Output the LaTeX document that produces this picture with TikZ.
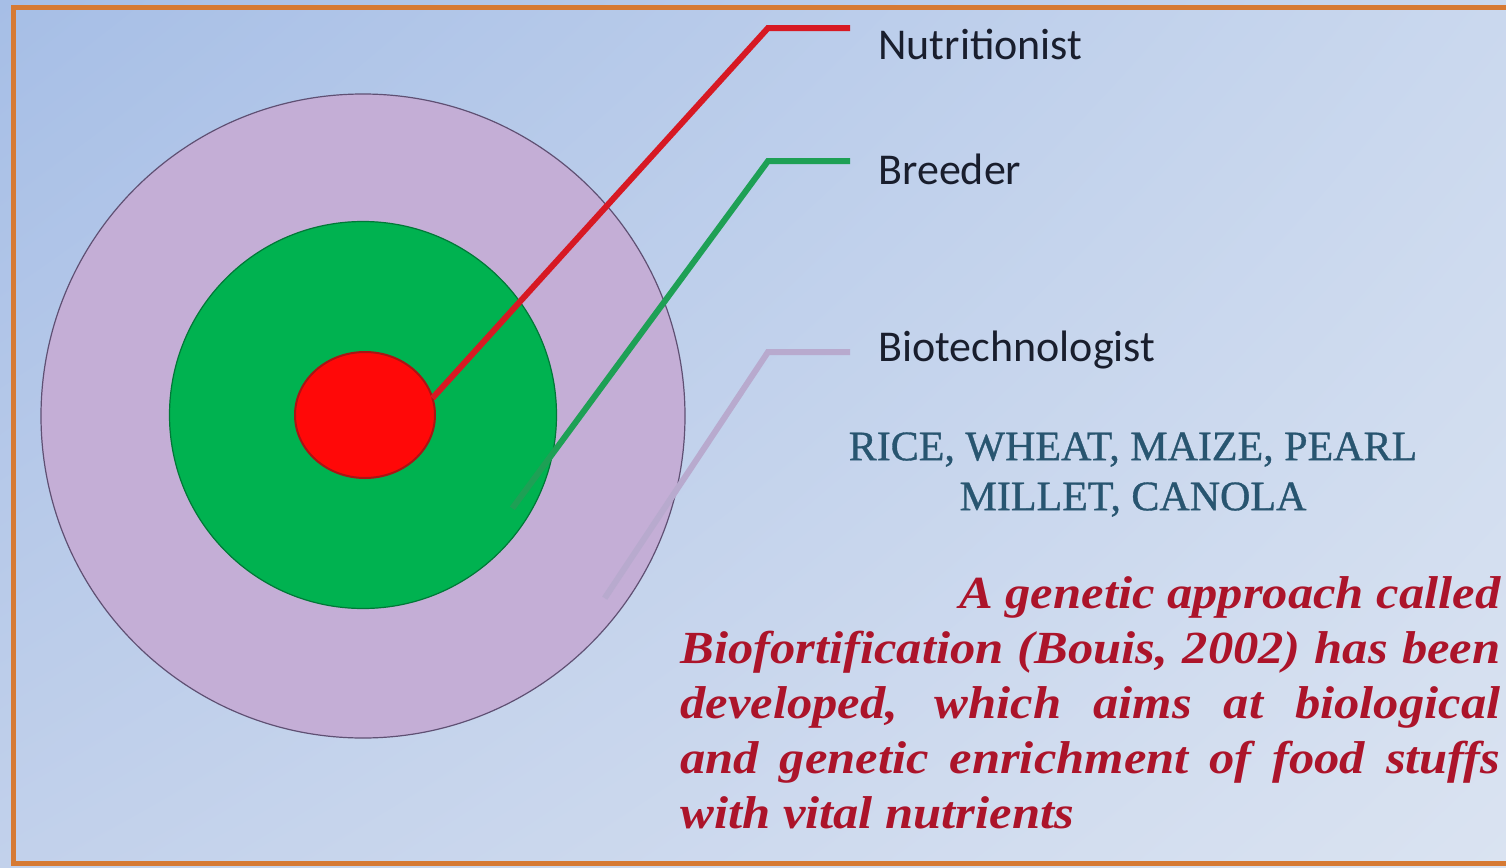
\documentclass[tikz,border=0pt]{standalone}
\usepackage{fontspec}
\setmainfont{Liberation Serif}
\newfontfamily\lblfont{Carlito}
\newfontfamily\cropfont[FakeBold=0.8]{Liberation Serif}
\newfontfamily\notefont[FakeStretch=1.1]{Liberation Serif}
\usetikzlibrary{shapes.geometric,calc,shadings}
\definecolor{bgtl}{RGB}{166,190,230}
\definecolor{bgtr}{RGB}{202,216,238}
\definecolor{bgbl}{RGB}{194,209,235}
\definecolor{bgbr}{RGB}{218,227,241}
\definecolor{framec}{RGB}{214,122,52}
\definecolor{lav}{RGB}{196,174,214}
\definecolor{lavedge}{RGB}{95,80,115}
\definecolor{grn}{RGB}{0,178,80}
\definecolor{grnedge}{RGB}{0,120,55}
\definecolor{corered}{RGB}{255,8,8}
\definecolor{rededge}{RGB}{170,20,20}
\definecolor{redlink}{RGB}{215,25,35}
\definecolor{grnlink}{RGB}{30,160,85}
\definecolor{lavlink}{RGB}{184,170,206}
\definecolor{lblink}{RGB}{25,30,45}
\definecolor{cropink}{RGB}{40,85,112}
\definecolor{noteink}{RGB}{172,20,42}
\begin{document}
\begin{tikzpicture}[x=0.5pt,y=-0.5pt,
  ring/.style={circle,inner sep=0pt,outer sep=0pt},
  lbl/.style={anchor=base west,inner xsep=14pt,inner ysep=0pt,text=lblink,font=\lblfont\fontsize{22}{26}\selectfont},
  link/.style={line width=3pt,line join=miter}]
  \useasboundingbox (0,0) rectangle (1506,868);
  \shade[upper left=bgtl,upper right=bgtr,lower left=bgbl,lower right=bgbr] (0,0) rectangle (1506,868);
  \draw[framec,line width=2.5pt] (13,7) rectangle (1540,863);
  \node[ring,fill=lav,draw=lavedge,line width=0.6pt,minimum size=322pt] (outer) at (363,416) {};
  \node[ring,fill=grn,draw=grnedge,line width=0.6pt,minimum size=193.5pt] (mid) at (363,415) {};
  \node[ellipse,inner sep=0pt,outer sep=0pt,fill=corered,draw=rededge,line width=1pt,minimum width=70pt,minimum height=63pt] (core) at (365,415) {};
  \node[lbl] (nutri) at (850,59) {Nutritionist};
  \node[lbl] (breed) at (850,184) {Breeder};
  \node[lbl] (biotech) at (850,361) {Biotechnologist};
  \draw[link,lavlink] ($(outer.center)!0.94!(outer.-37)$) -- ([shift={(-41pt,4.5pt)}]biotech.base west) -- ([yshift=4.5pt]biotech.base west);
  \draw[link,grnlink] ($(mid.center)!0.91!(mid.-32)$) -- ([shift={(-41pt,11.5pt)}]breed.base west) -- ([yshift=11.5pt]breed.base west);
  \draw[link,redlink] (core.14) -- ([shift={(-41pt,15.5pt)}]nutri.base west) -- ([yshift=15.5pt]nutri.base west);
  \node[anchor=north,align=center,inner sep=0pt,text=cropink,font=\cropfont\fontsize{21}{25}\selectfont] (crops) at (1133,432) {RICE, WHEAT, MAIZE, PEARL\\MILLET, CANOLA};
  \node[anchor=north west,align=left,inner sep=0pt,text=noteink,font=\notefont\bfseries\itshape\fontsize{23}{27.5}\selectfont] (note) at (680,576)
    {\makebox[410pt][r]{A genetic approach called}\\
     \makebox[410pt][s]{Biofortification (Bouis, 2002) has been}\\
     \makebox[410pt][s]{developed, which aims at biological}\\
     \makebox[410pt][s]{and genetic enrichment of food stuffs}\\
     with vital nutrients};
\end{tikzpicture}
\end{document}
